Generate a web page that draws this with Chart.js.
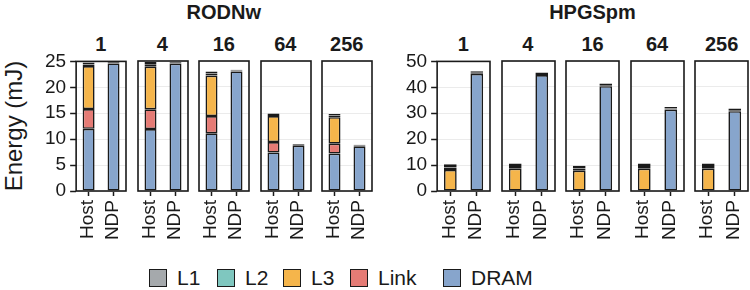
<!DOCTYPE html>
<html><head><meta charset="utf-8">
<script src="https://cdn.jsdelivr.net/npm/chart.js@4.4.0/dist/chart.umd.min.js"></script>
<style>
body{margin:0;width:750px;height:290px;position:relative;background:#fff;overflow:hidden;font-family:'Liberation Sans',Arial,Helvetica,sans-serif;color:#1a1a1a}
canvas{position:absolute}
.t{position:absolute;white-space:nowrap;line-height:1}
.leg{position:absolute;display:flex;align-items:center;font-size:21px}
.leg span.box{display:inline-block;width:16px;height:16px;border:1.8px solid #1a1a1a;margin-right:10px}
</style></head><body>
<script>
// ---------------- data ----------------
const cacheSizes = ['1', '4', '16', '64', '256'];
const systems = ['Host', 'NDP'];
const components = ['L1', 'L2', 'L3', 'Link', 'DRAM'];
const workloads = ['RODNw', 'HPGSpm'];
const rodnwTicks = [0, 5, 10, 15, 20, 25];
const hpgsTicks = [0, 10, 20, 30, 40, 50];

// RODNw, Host
const rodnwHostDRAM = [12.0, 11.9, 11.1, 7.4, 7.2];
const rodnwHostLink = [3.8, 3.8, 3.3, 2.0, 1.9];
const rodnwHostL3   = [8.3, 8.2, 7.8, 5.0, 5.1];
const rodnwHostL2   = [0.3, 0.4, 0.4, 0.2, 0.3];
const rodnwHostL1   = [0.4, 0.5, 0.4, 0.3, 0.3];
// RODNw, NDP
const rodnwNdpDRAM = [24.6, 24.5, 23.0, 8.7, 8.6];
const rodnwNdpLink = [0, 0, 0, 0, 0];
const rodnwNdpL3   = [0, 0, 0, 0, 0];
const rodnwNdpL2   = [0.15, 0.15, 0.15, 0.15, 0.15];
const rodnwNdpL1   = [0.15, 0.15, 0.15, 0.15, 0.15];
// HPGSpm, Host
const hpgsHostDRAM = [0, 0, 0, 0, 0];
const hpgsHostLink = [0, 0, 0, 0, 0];
const hpgsHostL3   = [8.1, 8.6, 7.8, 8.6, 8.6];
const hpgsHostL2   = [1.0, 1.0, 0.9, 1.0, 1.0];
const hpgsHostL1   = [1.2, 1.0, 1.0, 1.0, 1.0];
// HPGSpm, NDP
const hpgsNdpDRAM = [45.2, 44.6, 40.3, 31.3, 30.7];
const hpgsNdpLink = [0, 0, 0, 0, 0];
const hpgsNdpL3   = [0, 0, 0, 0, 0];
const hpgsNdpL2   = [0.4, 0.4, 0.4, 0.4, 0.4];
const hpgsNdpL1   = [0.6, 0.6, 0.6, 0.6, 0.6];

// ---------------- style / layout ----------------
const FONT = "'Liberation Sans', Arial, Helvetica, sans-serif";
const INK = '#1a1a1a';
const colors = { L1: '#A5A9AC', L2: '#7FC7BF', L3: '#F5B54B', Link: '#E57B75', DRAM: '#87A5CC' };
const borderWidths = { L1: 3, L2: 3, L3: 1.6, Link: 1.6, DRAM: 1.6 };
const PANEL_TOP = 61, PANEL_H = 130, X_LABEL_SPACE = 56;

const groups = [
  { name: workloads[0], x0: 76, step: 61.5, w: 49.5, ticks: rodnwTicks,
    host: { DRAM: rodnwHostDRAM, Link: rodnwHostLink, L3: rodnwHostL3, L2: rodnwHostL2, L1: rodnwHostL1 },
    ndp:  { DRAM: rodnwNdpDRAM,  Link: rodnwNdpLink,  L3: rodnwNdpL3,  L2: rodnwNdpL2,  L1: rodnwNdpL1 } },
  { name: workloads[1], x0: 437, step: 64.6, w: 52.6, ticks: hpgsTicks,
    host: { DRAM: hpgsHostDRAM, Link: hpgsHostLink, L3: hpgsHostL3, L2: hpgsHostL2, L1: hpgsHostL1 },
    ndp:  { DRAM: hpgsNdpDRAM,  Link: hpgsNdpLink,  L3: hpgsNdpL3,  L2: hpgsNdpL2,  L1: hpgsNdpL1 } }
];

// panel frame drawn around the plot area
const framePlugin = {
  id: 'frame',
  afterDraw(chart) {
    const { ctx, chartArea: a } = chart;
    ctx.save();
    ctx.strokeStyle = INK; ctx.lineWidth = 1.6;
    ctx.strokeRect(a.left, a.top, a.right - a.left, a.bottom - a.top);
    ctx.restore();
  }
};

// vertical category labels (Host / NDP) under the x scale's tick positions
const vLabelPlugin = {
  id: 'vlabels',
  afterDraw(chart) {
    const { ctx } = chart;
    const xs = chart.scales.x;
    ctx.save();
    ctx.fillStyle = INK;
    ctx.font = '19px ' + FONT;
    ctx.textAlign = 'right';
    ctx.textBaseline = 'middle';
    xs.ticks.forEach((t, k) => {
      const px = xs.getPixelForTick(k);
      ctx.save();
      ctx.translate(px - 1, xs.bottom + 4);
      ctx.rotate(-Math.PI / 2);
      ctx.fillText(xs.getLabelForValue(t.value), 0, 0);
      ctx.restore();
    });
    ctx.restore();
  }
};

function addText(txt, css) {
  const d = document.createElement('div');
  d.className = 't'; d.textContent = txt;
  Object.assign(d.style, css);
  document.body.appendChild(d);
  return d;
}

const stackOrder = ['DRAM', 'Link', 'L3', 'L2', 'L1'];

function buildConfig(g, i, first) {
  const gMax = g.ticks[g.ticks.length - 1];
  const step = g.ticks[1] - g.ticks[0];
  const datasets = stackOrder.map(c => ({
    label: c,
    data: [g.host[c][i], g.ndp[c][i]],
    backgroundColor: colors[c],
    borderColor: INK,
    borderWidth: borderWidths[c],
    borderSkipped: false,
    barPercentage: 0.48,
    categoryPercentage: 1.0
  }));
  return {
    type: 'bar',
    data: { labels: systems, datasets },
    options: {
      responsive: false, maintainAspectRatio: false, animation: false, devicePixelRatio: 1,
      layout: { padding: { top: first ? 12 : 2, right: 2, left: first ? 0 : 2, bottom: X_LABEL_SPACE } },
      plugins: { legend: { display: false }, title: { display: false }, tooltip: { enabled: false } },
      scales: {
        x: {
          stacked: true, offset: true,
          ticks: { display: false },
          grid: { display: true, drawOnChartArea: false, drawTicks: true, tickLength: 5, tickColor: INK, tickWidth: 1.5, offset: false },
          border: { display: false }
        },
        y: {
          stacked: true, min: 0, max: gMax,
          ticks: { display: first, stepSize: step, autoSkip: false, font: { size: 19, family: FONT }, color: INK, padding: 4 },
          grid: { color: '#EBEBEB', lineWidth: 1, drawTicks: first, tickLength: 6, tickColor: INK, tickWidth: 1.5 },
          border: { display: false }
        }
      }
    },
    plugins: [framePlugin, vLabelPlugin]
  };
}

groups.forEach(g => {
  const groupLeft = g.x0, groupRight = g.x0 + g.step * (cacheSizes.length - 1) + g.w;
  const titleDiv = addText(g.name, { fontWeight: 'bold', fontSize: '20px', top: '2px' });
  titleDiv.style.left = ((groupLeft + groupRight) / 2) + 'px';
  titleDiv.style.transform = 'translateX(-50%)';

  cacheSizes.forEach((cs, i) => {
    const first = i === 0;
    const left = g.x0 + g.step * i;

    const lab = addText(cs, { fontWeight: 'bold', fontSize: '20px', top: '34px' });
    lab.style.left = (left + g.w / 2) + 'px';
    lab.style.transform = 'translateX(-50%)';

    // pass 1: measure axis space
    let cv = document.createElement('canvas');
    cv.width = 200; cv.height = 260;
    cv.style.width = '200px'; cv.style.height = '260px';
    document.body.appendChild(cv);
    let ch = new Chart(cv, buildConfig(g, i, first));
    const a = ch.chartArea;
    const extraW = ch.width - (a.right - a.left);
    const extraH = ch.height - (a.bottom - a.top);
    ch.destroy(); cv.remove();

    // pass 2: final size so the plot area matches the panel size
    const W = Math.round(g.w + extraW), H = Math.round(PANEL_H + extraH);
    cv = document.createElement('canvas');
    cv.width = W; cv.height = H;
    cv.style.width = W + 'px'; cv.style.height = H + 'px';
    document.body.appendChild(cv);
    ch = new Chart(cv, buildConfig(g, i, first));
    const b = ch.chartArea;
    cv.style.left = (left - b.left) + 'px';
    cv.style.top = (PANEL_TOP - b.top) + 'px';
  });
});

// y-axis title
const yt = addText('Energy (mJ)', { fontSize: '24px', left: '14px', top: (PANEL_TOP + PANEL_H / 2) + 'px' });
yt.style.transform = 'translate(-50%,-50%) rotate(-90deg)';

// legend
const legendLefts = [149, 217, 283, 350, 443];
components.forEach((c, k) => {
  const it = document.createElement('div');
  it.className = 'leg';
  it.style.left = legendLefts[k] + 'px';
  it.style.top = '266px';
  const b = document.createElement('span');
  b.className = 'box'; b.style.background = colors[c];
  const s = document.createElement('span'); s.textContent = c;
  it.appendChild(b); it.appendChild(s);
  document.body.appendChild(it);
});
</script>
</body></html>
